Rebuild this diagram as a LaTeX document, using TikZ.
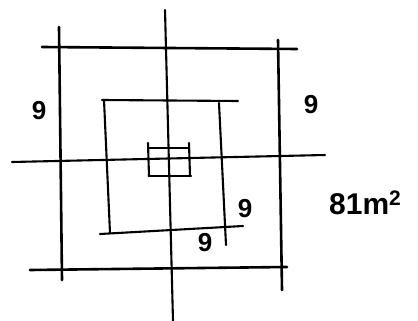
\documentclass[tikz,border=0pt]{standalone}
\usepackage{fontspec}
\setmainfont{Liberation Sans}
\begin{document}
\begin{tikzpicture}[x=1pt,y=-1pt,
  thick line/.style={line width=2.6pt,line cap=round,black},
  mid line/.style={line width=2.1pt,line cap=round,black},
  lbl/.style={font=\fontsize{26}{28}\selectfont\bfseries,inner sep=0pt}]
\useasboundingbox (0,0) rectangle (418,321);
% outer square
\draw[thick line] (42,47) -- (297,49);
\draw[thick line] (59,27) -- (62,280);
\draw[thick line] (278,40) -- (282,290);
\draw[thick line] (30,270) -- (287,267);
% cross
\draw[mid line] (165,10) -- (173,321);
\draw[mid line] (12,162) -- (325,155);
% middle square
\draw[mid line] (102,100) -- (238,101);
\draw[mid line] (104,100) -- (110,233);
\draw[mid line] (219,103) -- (226,245);
\draw[mid line] (100,234) -- (243,226);
% small square
\draw[mid line] (148,143) -- (149,176);
\draw[mid line] (149,148) -- (189,148);
\draw[mid line] (189,143) -- (190,176);
\draw[mid line] (149,176) -- (191,176);
% labels
\node[lbl] (l1) at (39,111) {9};
\node[lbl] (l2) at (311,105) {9};
\node[lbl] (l3) at (245,209) {9};
\node[lbl] (l4) at (205,243) {9};
\node[lbl,anchor=west,font=\fontsize{30}{32}\selectfont\bfseries] (area) at (329,203) {81m\textsuperscript{2}};
\end{tikzpicture}
\end{document}
